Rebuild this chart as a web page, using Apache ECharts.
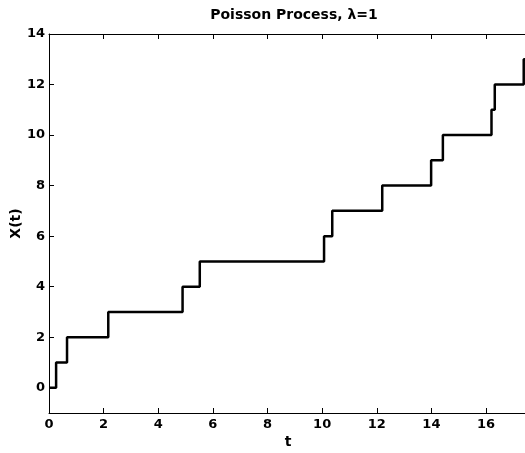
<!DOCTYPE html>
<html>
<head>
<meta charset="utf-8">
<style>
  html, body { margin: 0; padding: 0; background: #fff; }
  #chart { width: 525px; height: 453px; }
</style>
<script src="https://cdn.jsdelivr.net/npm/echarts@6/dist/echarts.min.js"></script>
</head>
<body>
<div id="chart"></div>
<script>
// Arrival times of a unit-rate Poisson process and the count after each arrival
const jumpTimes = [0, 0.26, 0.66, 2.17, 4.89, 5.52, 10.07, 10.37, 12.2, 13.99, 14.42, 16.2, 16.32, 17.38];
const counts    = [0, 1, 2, 3, 4, 5, 6, 7, 8, 9, 10, 11, 12, 13];
const tEnd = 17.5;

const xTicks = [0, 2, 4, 6, 8, 10, 12, 14, 16];
const yTicks = [0, 2, 4, 6, 8, 10, 12, 14];

const pathData = jumpTimes.map((t, i) => [t, counts[i]]);
pathData.push([tEnd, counts[counts.length - 1]]);

const FONT = 'DejaVu Sans';
const labelStyle = { color: '#000', fontFamily: FONT, fontWeight: 'bold', fontSize: 13 };
const nameStyle = { color: '#000', fontFamily: FONT, fontWeight: 'bold', fontSize: 14 };

const chart = echarts.init(document.getElementById('chart'), null, { renderer: 'canvas' });

function boxAxis(extra) {
  return Object.assign({
    type: 'value',
    axisLine: { show: true, onZero: false, lineStyle: { color: '#000', width: 1 } },
    splitLine: { show: false }
  }, extra);
}

function ticks(values) {
  return { show: true, inside: true, length: 5, customValues: values, lineStyle: { color: '#000' } };
}

chart.setOption({
  animation: false,
  backgroundColor: '#fff',
  title: {
    text: 'Poisson Process, λ=1',
    left: 289, top: 3, textAlign: 'center',
    textStyle: { color: '#000', fontFamily: FONT, fontWeight: 'bold', fontSize: 14 }
  },
  grid: { left: 49, right: -2, top: 34, bottom: 40, containLabel: false, outerBoundsMode: 'none' },
  xAxis: [
    boxAxis({
      position: 'bottom', min: 0, max: tEnd,
      name: 't', nameLocation: 'middle', nameGap: 22, nameMoveOverlap: false,
      nameTextStyle: nameStyle,
      axisTick: ticks(xTicks),
      axisLabel: Object.assign({ margin: 5, customValues: xTicks }, labelStyle)
    }),
    boxAxis({
      position: 'top', min: 0, max: tEnd,
      axisTick: ticks(xTicks),
      axisLabel: { show: false }
    })
  ],
  yAxis: [
    boxAxis({
      position: 'left', min: -1, max: 14,
      name: 'X(t)', nameLocation: 'middle', nameGap: 26, nameMoveOverlap: false,
      nameTextStyle: nameStyle,
      axisTick: ticks(yTicks),
      axisLabel: Object.assign({ margin: 4, customValues: yTicks }, labelStyle)
    })
  ],
  series: [{
    type: 'line',
    step: 'end',
    data: pathData,
    showSymbol: false,
    symbol: 'none',
    lineStyle: { color: '#000', width: 2.5 },
    clip: false
  }]
});
</script>
</body>
</html>
